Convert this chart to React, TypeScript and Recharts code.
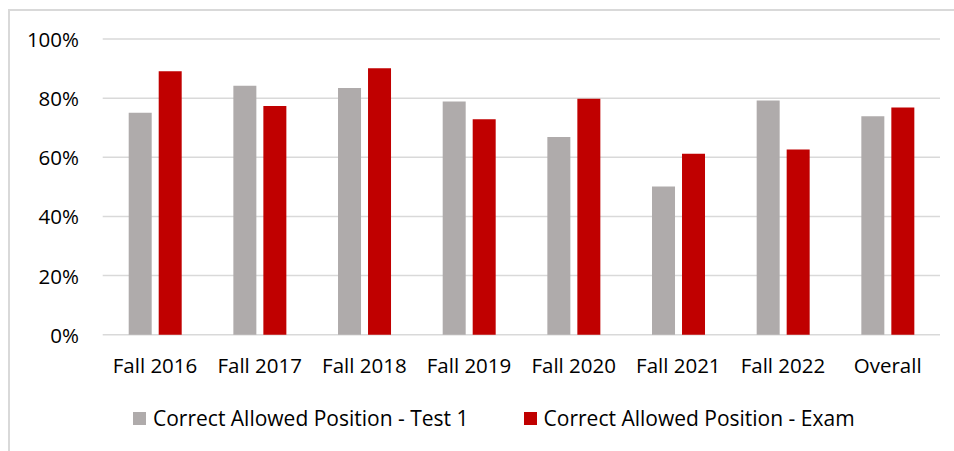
import { BarChart, Bar, XAxis, YAxis, CartesianGrid, Legend } from "recharts";

const terms = ["Fall 2016", "Fall 2017", "Fall 2018", "Fall 2019", "Fall 2020", "Fall 2021", "Fall 2022", "Overall"];
const test1 = [75.1, 84.2, 83.4, 78.9, 66.9, 50.1, 79.2, 73.9];
const exam = [89.1, 77.3, 90.1, 72.9, 79.8, 61.2, 62.6, 76.8];
const yTicks = [0, 20, 40, 60, 80, 100];

const data = terms.map((term, i) => ({ term, test1: test1[i], exam: exam[i] }));

const FONT = "'Open Sans', sans-serif";

function YTick(props: any) {
  const { y, payload } = props;
  return (
    <text x={79} y={y} textAnchor="end" dominantBaseline="central" fill="#000" fontSize={20.5} fontFamily={FONT}>
      {payload.value}%
    </text>
  );
}

function XTick(props: any) {
  const { x, y, payload } = props;
  return (
    <text x={x} y={y + 22} textAnchor="middle" dominantBaseline="central" fill="#000" fontSize={20.5} fontFamily={FONT}>
      {payload.value}
    </text>
  );
}

const seriesOrder = ["test1", "exam"];

function LegendContent(props: any) {
  const items = [...(props.payload || [])].sort(
    (a: any, b: any) => seriesOrder.indexOf(a.dataKey) - seriesOrder.indexOf(b.dataKey)
  );
  return (
    <div style={{ display: "flex", alignItems: "center", paddingLeft: 133, gap: 55, fontFamily: FONT, fontSize: 21, color: "#000" }}>
      {items.map((it: any) => (
        <div key={it.dataKey} style={{ display: "flex", alignItems: "center" }}>
          <span style={{ display: "inline-block", width: 13, height: 13, background: it.color, marginRight: 7 }} />
          <span>{it.value}</span>
        </div>
      ))}
    </div>
  );
}

export default function App() {
  return (
    <div style={{ position: "absolute", left: 0, top: 0, width: 954, height: 451, overflow: "hidden", background: "#fff" }}>
      <div
        style={{
          position: "absolute",
          left: 8,
          top: 9,
          width: 960,
          height: 460,
          borderLeft: "2px solid #d9d9d9",
          borderTop: "2px solid #d9d9d9",
        }}
      />
      <div style={{ position: "absolute", left: 0, top: 0 }}>
        <BarChart
          width={954}
          height={451}
          data={data}
          margin={{ top: 39, right: 14, left: 0, bottom: 0 }}
          barSize={23}
          barGap={7}
        >
          <CartesianGrid vertical={false} stroke="#d9d9d9" strokeWidth={1.5} />
          <XAxis dataKey="term" height={116.3} axisLine={false} tickLine={false} tick={<XTick />} interval={0} />
          <YAxis width={102.7} domain={[0, 100]} ticks={yTicks} axisLine={false} tickLine={false} tick={<YTick />} />
          <Legend
            verticalAlign="middle"
            align="center"
            wrapperStyle={{ top: 404, left: 0, width: 954 }}
            content={<LegendContent />}
          />
          <Bar dataKey="test1" name="Correct Allowed Position - Test 1" fill="#AFABAB" isAnimationActive={false} />
          <Bar dataKey="exam" name="Correct Allowed Position - Exam" fill="#C00000" isAnimationActive={false} />
        </BarChart>
      </div>
    </div>
  );
}
